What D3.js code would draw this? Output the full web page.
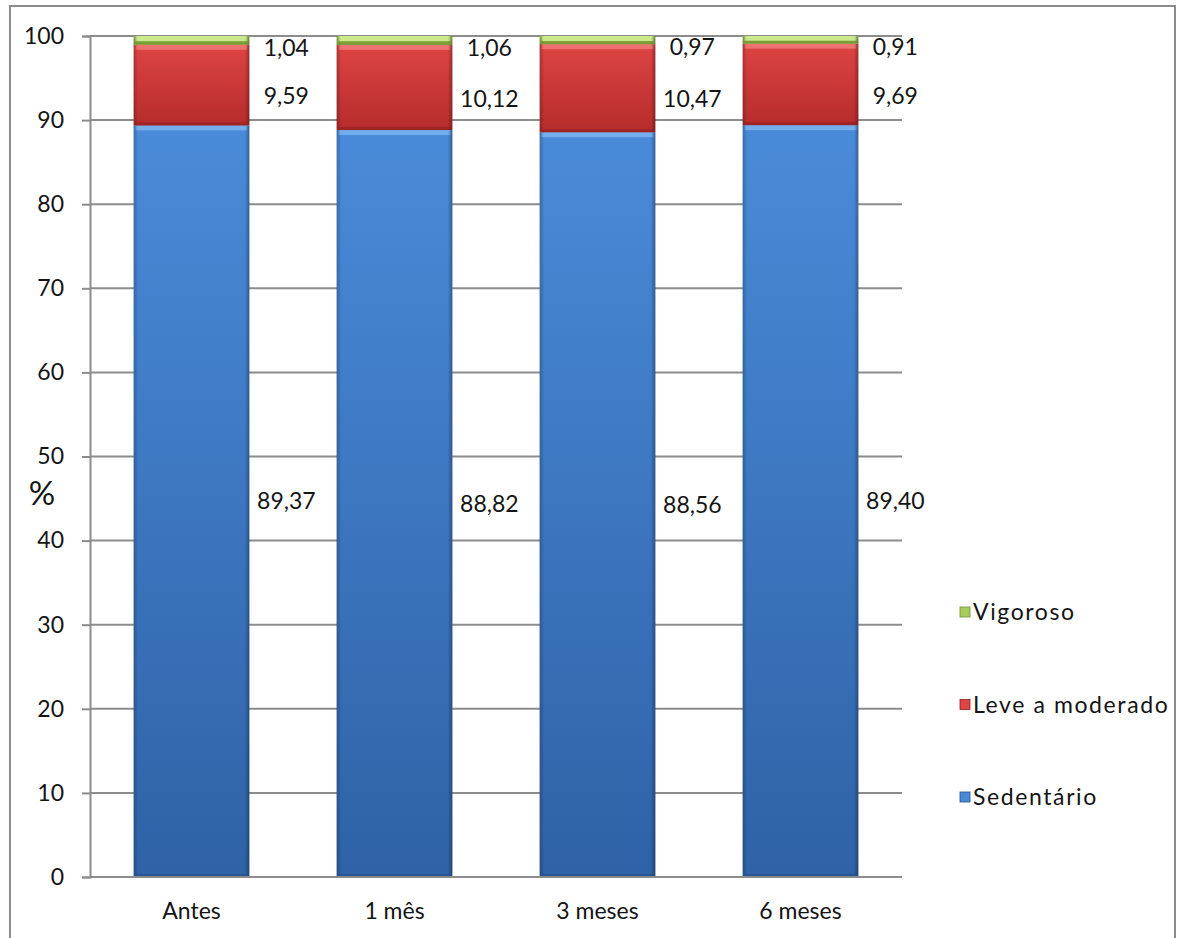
<!DOCTYPE html>
<html>
<head>
<meta charset="utf-8">
<script src="https://cdn.jsdelivr.net/npm/d3@7"></script>
<style>
  html, body { margin: 0; padding: 0; background: #fff; }
  svg { display: block; }
  text { font-family: Lato, "Open Sans", sans-serif; fill: #141414; }
</style>
</head>
<body>
<svg id="chart" width="1177" height="938"></svg>
<script>
// Physical activity level by follow-up moment (% of time)
const categories = ["Antes", "1 mês", "3 meses", "6 meses"];
const sedentario = [89.37, 88.82, 88.56, 89.40];
const leveModerado = [9.59, 10.12, 10.47, 9.69];
const vigoroso = [1.04, 1.06, 0.97, 0.91];
const seriesNames = ["Sedentário", "Leve a moderado", "Vigoroso"];
const yTicks = [0, 10, 20, 30, 40, 50, 60, 70, 80, 90, 100];

const fmt = v => v.toFixed(2).replace(".", ",");

const svg = d3.select("#chart");
const W = 1177, H = 938;
const plot = { left: 90, right: 902, top: 36, bottom: 877 };

const rows = categories.map((c, i) => ({
  cat: c, "Sedentário": sedentario[i], "Leve a moderado": leveModerado[i], "Vigoroso": vigoroso[i]
}));
const stacked = d3.stack().keys(seriesNames)(rows);

const x = d3.scaleBand().domain(categories).range([plot.left, plot.right])
  .paddingInner(0.43).paddingOuter(0.215);
const y = d3.scaleLinear().domain([0, 100]).range([plot.bottom, plot.top]);

// colour sets per series: [top, bottom, highlight, edge]
const palette = {
  "Sedentário": ["#4a8bd9", "#2f62a6", "#7db4f0", "#234f8a"],
  "Leve a moderado": ["#de4444", "#b62c2c", "#f07a78", "#8f2020"],
  "Vigoroso": ["#a8cc5c", "#86ad3f", "#d2ee96", "#6f9030"]
};

const defs = svg.append("defs");
seriesNames.forEach((s, i) => {
  const g = defs.append("linearGradient").attr("id", "fill" + i)
    .attr("x1", 0).attr("y1", 0).attr("x2", 0).attr("y2", 1);
  g.append("stop").attr("offset", "0%").attr("stop-color", palette[s][0]);
  g.append("stop").attr("offset", "100%").attr("stop-color", palette[s][1]);
});
const side = defs.append("linearGradient").attr("id", "sideShade")
  .attr("x1", 0).attr("y1", 0).attr("x2", 1).attr("y2", 0);
side.append("stop").attr("offset", "0%").attr("stop-color", "#000").attr("stop-opacity", 0.22);
side.append("stop").attr("offset", "4%").attr("stop-color", "#000").attr("stop-opacity", 0);
side.append("stop").attr("offset", "96%").attr("stop-color", "#000").attr("stop-opacity", 0);
side.append("stop").attr("offset", "100%").attr("stop-color", "#000").attr("stop-opacity", 0.3);

// outer frame
svg.append("rect").attr("x", 10).attr("y", 6).attr("width", W - 12).attr("height", H)
  .attr("fill", "none").attr("stroke", "#8c8c8c").attr("stroke-width", 2);

// horizontal gridlines
svg.append("g").selectAll("line").data(yTicks.filter(t => t > 0)).join("line")
  .attr("x1", plot.left).attr("x2", plot.right)
  .attr("y1", d => y(d)).attr("y2", d => y(d))
  .attr("stroke", "#8c8c8c").attr("stroke-width", 2);

// y axis
const yAxis = svg.append("g").attr("transform", `translate(${plot.left},0)`)
  .call(d3.axisLeft(y).tickValues(yTicks).tickSize(8).tickPadding(18).tickFormat(d3.format("d")));
yAxis.select(".domain").attr("stroke", "#8c8c8c").attr("stroke-width", 2);
yAxis.selectAll(".tick line").attr("stroke", "#8c8c8c").attr("stroke-width", 2);
yAxis.selectAll(".tick text").attr("font-size", 23).attr("font-family", "Lato, sans-serif")
  .attr("fill", "#141414");

// bars
const layers = svg.append("g").selectAll("g").data(stacked).join("g");
layers.each(function(layer, li) {
  const s = layer.key;
  const g = d3.select(this);
  const segs = g.selectAll("g.seg").data(layer).join("g").attr("class", "seg");
  segs.append("rect")
    .attr("x", d => x(d.data.cat)).attr("width", x.bandwidth())
    .attr("y", d => y(d[1])).attr("height", d => y(d[0]) - y(d[1]))
    .attr("fill", `url(#fill${li})`);
  // bevel: light top strip
  segs.append("rect")
    .attr("x", d => x(d.data.cat) + 2).attr("width", x.bandwidth() - 4)
    .attr("y", d => y(d[1])).attr("height", d => Math.min(5, y(d[0]) - y(d[1])))
    .attr("fill", palette[s][2]).attr("opacity", 0.85);
  // bevel: side shading
  segs.append("rect")
    .attr("x", d => x(d.data.cat)).attr("width", x.bandwidth())
    .attr("y", d => y(d[1])).attr("height", d => y(d[0]) - y(d[1]))
    .attr("fill", "url(#sideShade)");
  // bevel: darker bottom strip
  segs.append("rect")
    .attr("x", d => x(d.data.cat) + 2).attr("width", x.bandwidth() - 4)
    .attr("y", d => y(d[0]) - Math.min(3, y(d[0]) - y(d[1]))).attr("height", d => Math.min(3, y(d[0]) - y(d[1])))
    .attr("fill", palette[s][3]).attr("opacity", 0.6);
});

// x axis baseline
svg.append("line").attr("x1", plot.left).attr("x2", plot.right)
  .attr("y1", y(0)).attr("y2", y(0)).attr("stroke", "#8c8c8c").attr("stroke-width", 2);
const xAxis = svg.append("g").attr("transform", `translate(0,${y(0)})`)
  .call(d3.axisBottom(x).tickSize(0).tickPadding(26));
xAxis.select(".domain").remove();
xAxis.selectAll(".tick text").attr("font-size", 23).attr("font-family", "Lato, sans-serif")
  .attr("fill", "#141414");

// value labels to the right of each bar
const labelOffsetY = { "Sedentário": 0, "Leve a moderado": 11, "Vigoroso": 7 };
svg.append("g").selectAll("g").data(stacked).join("g")
  .each(function(layer) {
    d3.select(this).selectAll("text").data(layer).join("text")
      .attr("x", d => x(d.data.cat) + x.bandwidth() + 37)
      .attr("y", d => y((d[0] + d[1]) / 2) + labelOffsetY[layer.key])
      .attr("dy", "0.36em")
      .attr("text-anchor", "middle")
      .attr("font-size", 23)
      .text(d => fmt(d[1] - d[0]));
  });

// y axis title
svg.append("text").attr("x", 42).attr("y", 505).attr("text-anchor", "middle")
  .attr("font-size", 33).text("%");

// legend (top to bottom: Vigoroso, Leve a moderado, Sedentário)
const legendY = d3.scalePoint().domain(seriesNames.slice().reverse()).range([612, 797]);
const lg = svg.append("g").selectAll("g").data(seriesNames.slice().reverse()).join("g")
  .attr("transform", d => `translate(960,${legendY(d)})`);
lg.append("rect").attr("x", 0).attr("y", -5).attr("width", 10).attr("height", 10)
  .attr("fill", d => palette[d][0]).attr("stroke", d => palette[d][3]).attr("stroke-width", 0.8);
lg.append("text").attr("x", 13).attr("dy", "0.36em").attr("font-size", 23)
  .attr("letter-spacing", "1.6px").text(d => d);
</script>
</body>
</html>
